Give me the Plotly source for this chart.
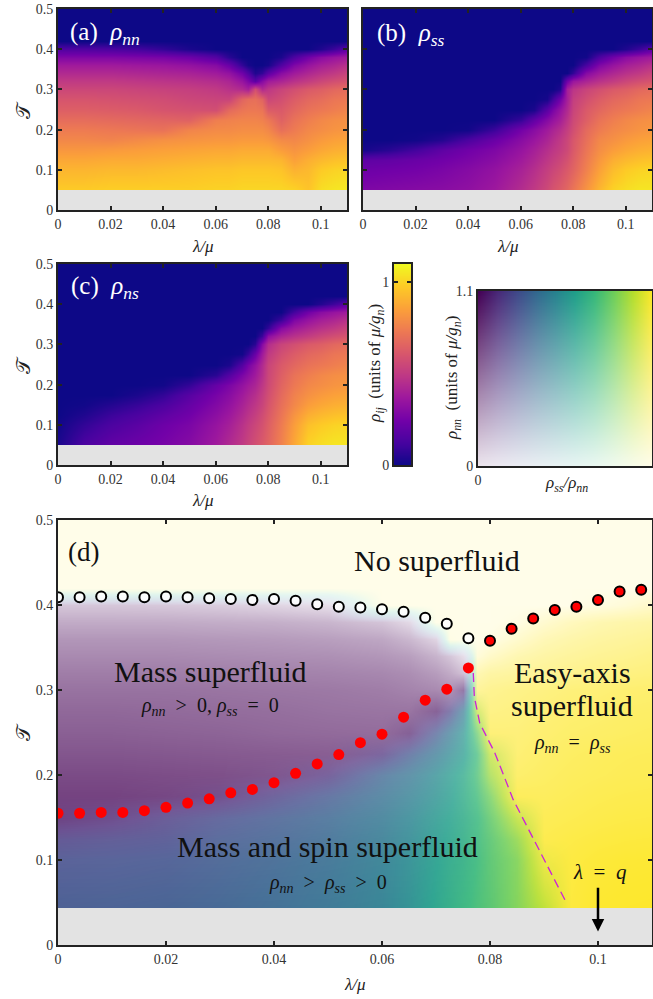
import plotly.graph_objects as go

W, H = 653, 999
lam = [0, .01, .02, .03, .04, .05, .06, .065, .07, .0725, .075, .0775, .08, .085, .09, .095, .1, .105, .11]
temp = [.05, .1, .125, .15, .175, .2, .225, .25, .275, .3, .32, .34, .36, .38, .4, .42, .5]
temp_d = [.044, .1, .125, .15, .175, .2, .225, .25, .275, .3, .32, .34, .36, .38, .4, .42, .5]

# superfluid densities x100, rows follow temp, columns follow lam
rho_nn = [
 [98, 98, 99, 99, 99, 99, 100, 100, 101, 101, 101, 101, 101, 101, 100, 96, 103, 105, 106],
 [92, 92, 93, 93, 94, 95, 96, 96, 97, 97, 97, 97, 97, 96, 91, 93, 98, 100, 101],
 [88, 88, 89, 89, 90, 91, 92, 92, 93, 93, 93, 93, 93, 92, 86, 90, 93, 95, 96],
 [83, 83, 84, 85, 86, 87, 88, 88, 89, 89, 89, 89, 89, 85, 82, 85, 88, 90, 91],
 [78, 78, 77, 79, 81, 82, 83, 83, 84, 84, 84, 84, 83, 79, 78, 81, 84, 86, 87],
 [74, 74, 73, 72, 71, 77, 79, 79, 80, 80, 80, 80, 78, 70, 74, 78, 80, 82, 83],
 [69, 69, 68, 67, 66, 65, 75, 76, 77, 77, 77, 76, 73, 65, 71, 75, 78, 80, 81],
 [64, 64, 63, 62, 60, 59, 58, 68, 72, 73, 73, 72, 63, 62, 67, 71, 73, 75, 77],
 [60, 60, 59, 58, 57, 55, 54, 54, 66, 69, 70, 66, 55, 58, 63, 67, 69, 72, 73],
 [55, 55, 55, 54, 53, 52, 50, 47, 44, 40, 58, 44, 49, 54, 58, 62, 64, 67, 69],
 [50, 50, 50, 49, 48, 47, 45, 42, 35, 28, 18, 30, 38, 42, 47, 51, 55, 58, 60],
 [44, 44, 44, 43, 42, 41, 38, 34, 24, 15, 4, 8, 18, 31, 38, 43, 47, 50, 54],
 [38, 38, 38, 37, 36, 34, 30, 22, 8, 2, 0, 0, 2, 15, 28, 35, 40, 43, 47],
 [28, 28, 28, 27, 26, 23, 16, 6, 0, 0, 0, 0, 0, 3, 14, 24, 31, 35, 38],
 [15, 15, 14, 12, 8, 3, 0, 0, 0, 0, 0, 0, 0, 0, 0, 0, 4, 10, 18],
 [0, 0, 0, 0, 0, 0, 0, 0, 0, 0, 0, 0, 0, 0, 0, 0, 0, 0, 0],
 [0, 0, 0, 0, 0, 0, 0, 0, 0, 0, 0, 0, 0, 0, 0, 0, 0, 0, 0],
]
rho_ss = [
 [28, 29, 30, 31, 33, 37, 45, 50, 56, 60, 63, 67, 72, 82, 92, 100, 103, 105, 105],
 [23, 24, 25, 27, 30, 34, 41, 46, 52, 55, 58, 62, 66, 76, 86, 94, 98, 100, 101],
 [19, 20, 22, 24, 27, 31, 38, 43, 49, 52, 55, 59, 64, 74, 83, 90, 93, 95, 96],
 [2, 6, 12, 19, 24, 28, 35, 40, 46, 49, 52, 56, 62, 72, 80, 85, 88, 90, 91],
 [0, 0, 1, 5, 14, 22, 31, 36, 42, 46, 50, 55, 61, 70, 78, 81, 84, 86, 87],
 [0, 0, 0, 0, 1, 10, 25, 31, 38, 42, 46, 52, 58, 68, 74, 78, 80, 82, 83],
 [0, 0, 0, 0, 0, 0, 9, 20, 30, 35, 40, 48, 56, 64, 71, 75, 78, 80, 81],
 [0, 0, 0, 0, 0, 0, 0, 3, 18, 27, 35, 44, 54, 62, 67, 71, 73, 75, 77],
 [0, 0, 0, 0, 0, 0, 0, 0, 2, 12, 24, 40, 52, 58, 63, 67, 69, 72, 73],
 [0, 0, 0, 0, 0, 0, 0, 0, 0, 0, 4, 40, 48, 54, 58, 62, 64, 67, 69],
 [0, 0, 0, 0, 0, 0, 0, 0, 0, 0, 0, 24, 36, 42, 47, 51, 55, 58, 60],
 [0, 0, 0, 0, 0, 0, 0, 0, 0, 0, 0, 0, 8, 30, 38, 43, 47, 50, 54],
 [0, 0, 0, 0, 0, 0, 0, 0, 0, 0, 0, 0, 0, 13, 28, 35, 40, 43, 47],
 [0, 0, 0, 0, 0, 0, 0, 0, 0, 0, 0, 0, 0, 1, 14, 24, 31, 35, 38],
 [0, 0, 0, 0, 0, 0, 0, 0, 0, 0, 0, 0, 0, 0, 0, 0, 4, 10, 18],
 [0, 0, 0, 0, 0, 0, 0, 0, 0, 0, 0, 0, 0, 0, 0, 0, 0, 0, 0],
 [0, 0, 0, 0, 0, 0, 0, 0, 0, 0, 0, 0, 0, 0, 0, 0, 0, 0, 0],
]
rho_ns = [
 [3, 14, 20, 23, 26, 30, 38, 44, 50, 54, 58, 62, 66, 76, 88, 100, 103, 105, 105],
 [1, 8, 14, 18, 23, 27, 35, 40, 47, 51, 55, 59, 64, 74, 85, 95, 98, 100, 101],
 [0, 4, 10, 14, 19, 24, 32, 37, 44, 48, 52, 57, 62, 72, 82, 90, 93, 95, 96],
 [0, 1, 5, 9, 14, 21, 29, 34, 41, 45, 49, 54, 60, 70, 78, 85, 88, 90, 91],
 [0, 0, 0, 3, 8, 17, 26, 31, 38, 42, 46, 52, 58, 68, 76, 81, 84, 86, 87],
 [0, 0, 0, 0, 1, 8, 21, 27, 34, 38, 42, 49, 56, 66, 73, 78, 80, 82, 83],
 [0, 0, 0, 0, 0, 0, 6, 16, 27, 32, 38, 46, 55, 64, 71, 75, 78, 80, 81],
 [0, 0, 0, 0, 0, 0, 0, 3, 16, 26, 34, 44, 54, 62, 67, 71, 73, 75, 77],
 [0, 0, 0, 0, 0, 0, 0, 0, 1, 9, 22, 38, 50, 58, 63, 67, 69, 72, 73],
 [0, 0, 0, 0, 0, 0, 0, 0, 0, 0, 6, 30, 45, 54, 58, 62, 64, 67, 69],
 [0, 0, 0, 0, 0, 0, 0, 0, 0, 0, 0, 10, 32, 42, 47, 51, 55, 58, 60],
 [0, 0, 0, 0, 0, 0, 0, 0, 0, 0, 0, 0, 8, 30, 38, 43, 47, 50, 54],
 [0, 0, 0, 0, 0, 0, 0, 0, 0, 0, 0, 0, 0, 10, 28, 35, 40, 43, 47],
 [0, 0, 0, 0, 0, 0, 0, 0, 0, 0, 0, 0, 0, 0, 12, 24, 31, 35, 38],
 [0, 0, 0, 0, 0, 0, 0, 0, 0, 0, 0, 0, 0, 0, 0, 0, 5, 11, 18],
 [0, 0, 0, 0, 0, 0, 0, 0, 0, 0, 0, 0, 0, 0, 0, 0, 0, 0, 0],
 [0, 0, 0, 0, 0, 0, 0, 0, 0, 0, 0, 0, 0, 0, 0, 0, 0, 0, 0],
]
# rho_ss / rho_nn x100 for panel (d)
ratio = [
 [25, 26, 27, 29, 32, 36, 42, 48, 57, 61, 65, 69, 72, 80, 90, 100, 100, 100, 100],
 [22, 23, 24, 27, 30, 34, 41, 47, 55, 59, 62, 67, 72, 80, 97, 100, 100, 100, 100],
 [16, 18, 20, 25, 28, 32, 39, 45, 53, 57, 61, 67, 72, 83, 100, 100, 100, 100, 100],
 [4, 8, 15, 21, 26, 31, 38, 44, 52, 56, 60, 66, 74, 90, 100, 100, 100, 100, 100],
 [0, 0, 1, 6, 16, 25, 35, 41, 49, 54, 60, 68, 78, 100, 100, 100, 100, 100, 100],
 [0, 0, 0, 0, 2, 12, 30, 37, 47, 53, 59, 70, 85, 100, 100, 100, 100, 100, 100],
 [0, 0, 0, 0, 0, 0, 12, 25, 38, 46, 53, 68, 90, 100, 100, 100, 100, 100, 100],
 [0, 0, 0, 0, 0, 0, 0, 4, 25, 38, 50, 75, 100, 100, 100, 100, 100, 100, 100],
 [0, 0, 0, 0, 0, 0, 0, 0, 3, 18, 38, 90, 100, 100, 100, 100, 100, 100, 100],
 [0, 0, 0, 0, 0, 0, 0, 0, 0, 0, 6, 100, 100, 100, 100, 100, 100, 100, 100],
 [0, 0, 0, 0, 0, 0, 0, 0, 0, 0, 0, 100, 100, 100, 100, 100, 100, 100, 100],
 [0, 0, 0, 0, 0, 0, 0, 0, 0, 0, 0, 100, 100, 100, 100, 100, 100, 100, 100],
 [0, 0, 0, 0, 0, 0, 0, 0, 0, 100, 100, 100, 100, 100, 100, 100, 100, 100, 100],
 [0, 0, 0, 0, 0, 0, 0, 0, 100, 100, 100, 100, 100, 100, 100, 100, 100, 100, 100],
 [0, 0, 0, 0, 0, 0, 100, 100, 100, 100, 100, 100, 100, 100, 100, 100, 100, 100, 100],
 [100, 100, 100, 100, 100, 100, 100, 100, 100, 100, 100, 100, 100, 100, 100, 100, 100, 100, 100],
 [100, 100, 100, 100, 100, 100, 100, 100, 100, 100, 100, 100, 100, 100, 100, 100, 100, 100, 100],
]
# phase boundary points, panel (d)
open_lam = [0, .004, .008, .012, .016, .02, .024, .028, .032, .036, .04, .044, .048, .052, .056, .06, .064, .068, .072, .076]
open_T = [.409, .409, .41, .41, .409, .41, .409, .408, .407, .406, .407, .405, .401, .398, .397, .395, .392, .385, .378, .361]
edge_lam = [.08, .084, .088, .092, .096, .1, .104, .108]
edge_T = [.358, .372, .384, .394, .398, .406, .416, .418]
low_lam = [0, .004, .008, .012, .016, .02, .024, .028, .032, .036, .04, .044, .048, .052, .056, .06, .064, .068, .072, .076]
low_T = [.155, .155, .156, .156, .158, .162, .167, .172, .179, .183, .191, .202, .213, .224, .238, .248, .268, .288, .301, .326]
dash_lam = [.0769, .0771, .0781, .0809, .0843, .0898, .0942]
dash_T = [.32, .292, .261, .226, .171, .104, .049]
# colour keys
bar_vals = [0, .1, .2, .3, .4, .5, .6, .7, .8, .9, 1, 1.1]
key_ratio = [0, .25, .5, .75, 1]
key_rho = [0, .55, 1.1]
lam_ticks = [0, .02, .04, .06, .08, .1]
lam_text = ["0", "0.02", "0.04", "0.06", "0.08", "0.1"]
T_ticks = [0, .1, .2, .3, .4, .5]
T_text = ["0", "0.1", "0.2", "0.3", "0.4", "0.5"]

FONT = "Liberation Serif"
INK = "#222222"
GRAY = "#e3e3e3"
WASH = [[0, "rgba(255,255,255,0.9)"], [1, "rgba(255,255,255,0)"]]
SP = "\u2002"


def pct(grid):
    return [[v / 100 for v in row] for row in grid]


def dom(a, b, size):
    return [a / size, b / size]


fig = go.Figure()


def axes(n, box, xr, yr, xt=None, xl=None, yt=None, yl=None):
    s = "" if n == 1 else str(n)
    x0, x1, y0, y1 = box
    common = dict(showgrid=False, zeroline=False, showline=True, linecolor=INK, linewidth=2,
                  mirror="ticks", ticks="inside", ticklen=4, tickwidth=2, tickcolor=INK,
                  tickfont=dict(family=FONT, size=14, color="#333333"))
    fig.layout["xaxis" + s] = dict(domain=dom(x0, x1, W), range=xr, anchor="y" + s,
                                   tickvals=xt or [], ticktext=xl or [], **common)
    fig.layout["yaxis" + s] = dict(domain=[1 - y1 / H, 1 - y0 / H], range=yr, anchor="x" + s,
                                   tickvals=yt or [], ticktext=yl or [], **common)


def heat(n, x, y, z, scale, lo, hi):
    s = "" if n == 1 else str(n)
    # the first row is repeated just above itself so the smoothed image stops at the first row
    y2 = [y[0], y[0] + .0002] + list(y[1:])
    z2 = [z[0]] + list(z)
    fig.add_trace(go.Heatmap(x=x, y=y2, z=z2, xaxis="x" + s, yaxis="y" + s, colorscale=scale,
                             zmin=lo, zmax=hi, zsmooth="best", showscale=False, hoverinfo="skip"))


def note(x, y, text, size=13, color="#222222", angle=0):
    fig.add_annotation(xref="paper", yref="paper", x=x / W, y=1 - y / H, text=text, showarrow=False,
                       textangle=angle, xanchor="center", yanchor="middle",
                       font=dict(family=FONT, size=size, color=color))


LX = [0, .11]
TY = [0, .5]
axes(1, (58, 347, 9, 210), LX, TY, lam_ticks, lam_text, T_ticks, T_text)
axes(2, (363, 652, 9, 210), LX, TY, lam_ticks, lam_text, T_ticks, [""] * 6)
axes(3, (58, 347, 264, 465), LX, TY, lam_ticks, lam_text, T_ticks, T_text)
axes(4, (394, 411, 264, 465), [0, 1], [0, 1.1], None, None, [0, 1], ["0", "1"])
axes(5, (478, 652, 291, 466), [0, 1], [0, 1.1], [0, 1], ["0", "1"], [0, 1.1], ["0", "1.1"])
axes(6, (58, 652, 520, 945), LX, TY, lam_ticks, lam_text, T_ticks, T_text)

heat(1, lam, temp, pct(rho_nn), "Plasma", 0, 1.1)
heat(2, lam, temp, pct(rho_ss), "Plasma", 0, 1.1)
heat(3, lam, temp, pct(rho_ns), "Plasma", 0, 1.1)
heat(4, [0, 1], bar_vals, [[v, v] for v in bar_vals], "Plasma", 0, 1.1)
heat(5, key_ratio, key_rho, [key_ratio for _ in key_rho], "Viridis", 0, 1)
heat(5, [0, 1], key_rho, [[v, v] for v in key_rho], WASH, 0, 1.1)
heat(6, lam, temp_d, pct(ratio), "Viridis", 0, 1)
heat(6, lam, temp_d, pct(rho_nn), WASH, 0, 1.1)

fig.add_trace(go.Scatter(x=dash_lam, y=dash_T, mode="lines", xaxis="x6", yaxis="y6", hoverinfo="skip",
                         line=dict(color="#cc22d8", width=1.3, dash="9px,5px")))
fig.add_trace(go.Scatter(x=open_lam, y=open_T, mode="markers", xaxis="x6", yaxis="y6", hoverinfo="skip",
                         marker=dict(size=10, color="rgba(255,255,255,0.85)", line=dict(color="black", width=2))))
fig.add_trace(go.Scatter(x=edge_lam, y=edge_T, mode="markers", xaxis="x6", yaxis="y6", hoverinfo="skip",
                         marker=dict(size=10, color="#ff0000", line=dict(color="black", width=2))))
fig.add_trace(go.Scatter(x=low_lam, y=low_T, mode="markers", xaxis="x6", yaxis="y6", hoverinfo="skip",
                         marker=dict(size=11, color="#ff0000")))

fig.add_annotation(x=.1, y=.016, ax=.1, ay=.069, xref="x6", yref="y6", axref="x6", ayref="y6",
                   text="", showarrow=True, arrowhead=2, arrowsize=1, arrowwidth=2.5, arrowcolor="black")

LAB = "<i>λ/μ</i>"
TAU = "𝒯"
for x, y in ((203, 246), (508, 246), (203, 500), (355, 984)):
    note(x, y, LAB, 17)
for y, x in ((110, 23), (365, 23), (732, 23)):
    note(x, y, TAU, 20, angle=-90)
note(376, 364, "<i>ρ<sub>ij</sub></i>  (units of <i>μ/g<sub>n</sub></i>)", 17, angle=-90)
note(453, 378, "<i>ρ<sub>nn</sub></i>  (units of <i>μ/g<sub>n</sub></i>)", 17, angle=-90)
note(566, 484, "<i>ρ<sub>ss</sub>/ρ<sub>nn</sub></i>", 17)

note(105, 33, "(a)  <i>ρ<sub>nn</sub></i>", 25, "white")
note(410, 35, "(b)  <i>ρ<sub>ss</sub></i>", 25, "white")
note(105, 288, "(c)  <i>ρ<sub>ns</sub></i>", 25, "white")
note(83, 552, "(d)", 27, "#111111")
note(437, 560, "No superfluid", 30, "#111111")
note(210, 671, "Mass superfluid", 30, "#111111")
note(210, 706, f"<i>ρ<sub>nn</sub></i>{SP}&gt;{SP}0, <i>ρ<sub>ss</sub></i>{SP}={SP}0", 20, "#111111")
note(572, 672, "Easy-axis", 30, "#111111")
note(572, 705, "superfluid", 30, "#111111")
note(572, 743, f"<i>ρ<sub>nn</sub></i>{SP}={SP}<i>ρ<sub>ss</sub></i>", 20, "#111111")
note(328, 846, "Mass and spin superfluid", 30, "#111111")
note(328, 883, f"<i>ρ<sub>nn</sub></i>{SP}&gt;{SP}<i>ρ<sub>ss</sub></i>{SP}&gt;{SP}0", 20, "#111111")
note(600, 872, f"<i>λ</i>{SP}={SP}<i>q</i>", 21, "#111111")

fig.update_layout(width=W, height=H, margin=dict(l=0, r=0, t=0, b=0, autoexpand=False), showlegend=False,
                  paper_bgcolor="white", plot_bgcolor=GRAY)
fig.write_html("out.html", config={"displayModeBar": False, "staticPlot": True},
               post_script="document.body.style.margin='0';document.body.style.overflow='hidden';")
